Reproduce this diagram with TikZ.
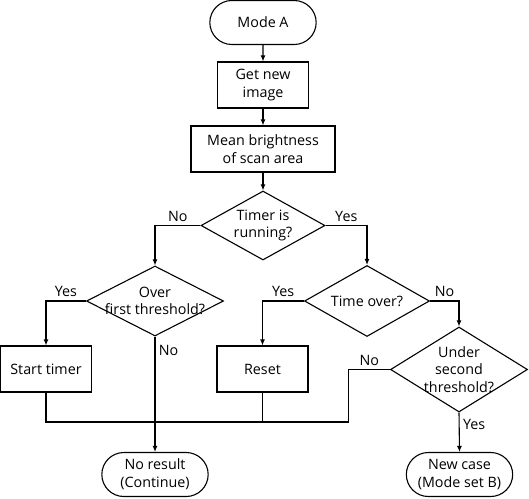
\documentclass[tikz,border=0pt]{standalone}
\usepackage{fontspec}
\setmainfont{Open Sans}
\usetikzlibrary{shapes.geometric,shapes.misc,arrows.meta}

\begin{document}
\begin{tikzpicture}
  [x=1pt,y=-1pt,font=\fontsize{14.3}{17.7}\selectfont,line width=1.1pt,
   terminal/.style={rounded rectangle,draw,align=center,minimum width=113pt,minimum height=44pt},
   process/.style={rectangle,draw,align=center,minimum width=91pt,minimum height=46pt},
   decision/.style 2 args={diamond,draw,inner sep=0pt,minimum width=#1,minimum height=#2},
   dtext/.style={align=center,inner sep=0pt},
   flow/.style={-{Latex[length=6pt,width=5pt]}}]
  \useasboundingbox (0,0) rectangle (529,498);

  \node[terminal] (modeA) at (263,22.5) {Mode A};
  \node[process] (getimg) at (263,85) {Get new\\image};
  \node[process,minimum width=144pt] (mean) at (263,149) {Mean brightness\\of scan area};
  \node[decision={124pt}{69pt},label={[dtext]center:Timer is\\running?}] (timer) at (263,225.5) {};
  \node[decision={137pt}{70pt},label={[dtext]center:Over\\first threshold?}] (first) at (155,301) {};
  \node[decision={125pt}{71pt},label={[dtext]center:Time over?}] (tover) at (367,301) {};
  \node[process] (start) at (46,369) {Start timer};
  \node[process] (reset) at (262.5,369) {Reset};
  \node[decision={137pt}{85pt},label={[dtext]center:Under\\second\\threshold?}] (under) at (459,369.5) {};
  \node[terminal] (noresult) at (155,474.5) {No result\\(Continue)};
  \node[terminal] (newcase) at (459.5,474.5) {New case\\(Mode set B)};
  \coordinate (merge) at (348.5,422);

  \foreach \from/\to in {modeA/getimg, getimg/mean, mean/timer}
    \draw[flow] (\from) -- (\to);

  \draw[flow] (timer.west) -| node[above,pos=0.25] {No} (first.north);
  \draw[flow] (timer.east) -| node[above,pos=0.25] {Yes} (tover.north);
  \draw[flow] (first.west) -| node[above,pos=0.25] {Yes} (start.north);
  \draw[flow] (first.south) -- node[right,pos=0.12] {No} (noresult.north);
  \draw[flow] (tover.west) -| node[above,pos=0.25] {Yes} (reset.north);
  \draw[flow] (tover.east) -| node[above,pos=0.25] {No} (under.north);
  \draw[flow] (under.south) -- node[right,pos=0.3] {Yes} (newcase.north);

  % loop back into No result
  \draw (under.west) -| node[above,pos=0.25] {No} (merge) -| (start.south);
  \draw (reset.south) -- (reset.south |- merge);
\end{tikzpicture}
\end{document}
